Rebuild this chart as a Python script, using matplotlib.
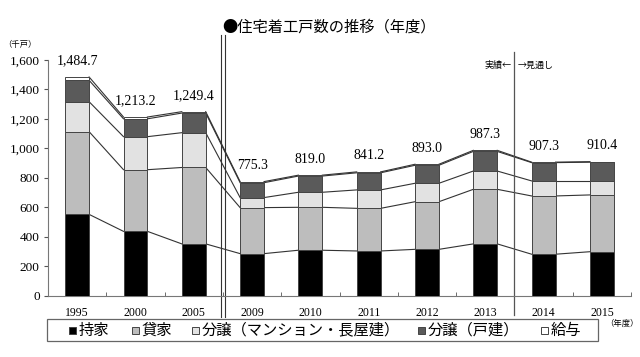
import matplotlib.pyplot as plt
import numpy as np
from matplotlib.patches import Rectangle

plt.rcParams['font.family'] = ['Noto Sans CJK JP', 'DejaVu Sans']

years = ["1995", "2000", "2005", "2009", "2010", "2011", "2012", "2013", "2014", "2015"]
totals = [1484.7, 1213.2, 1249.4, 775.3, 819.0, 841.2, 893.0, 987.3, 907.3, 910.4]

# 千戸
mochiie = [553, 438, 353, 287, 310, 305, 316, 353, 283, 300]
kashiya = [561, 418, 518, 312, 291, 289, 323, 370, 395, 385]
bunjo_m = [203, 224, 236, 68, 102, 125, 125, 124, 102, 95]
bunjo_k = [145, 121, 133, 101, 110, 116, 122, 133, 124, 127]
kyuyo = [t - a - b - c - d for t, a, b, c, d in zip(totals, mochiie, kashiya, bunjo_m, bunjo_k)]

series = [mochiie, kashiya, bunjo_m, bunjo_k, kyuyo]
names = ["持家", "貸家", "分譲（マンション・長屋建）", "分譲（戸建）", "給与"]
colors = ["#000000", "#bdbdbd", "#e2e2e2", "#5a5a5a", "#ffffff"]

W, H = 640, 357
fig = plt.figure(figsize=(6.4, 3.57), dpi=100)
ax = fig.add_axes([0.075, 0.171, 0.911, 0.661])

x = np.arange(len(years))
w = 0.41
bottom = np.zeros(len(years))
levels = []
for vals, name, c in zip(series, names, colors):
    vals = np.array(vals)
    ax.bar(x, vals, w, bottom=bottom, color=c, edgecolor="#444444", linewidth=0.7, label=name, zorder=3)
    bottom = bottom + vals
    levels.append(bottom.copy())

# 棒の間をつなぐ線
for lv in levels:
    for i in range(len(years) - 1):
        ax.plot([x[i] + w / 2, x[i + 1] - w / 2], [lv[i], lv[i + 1]], color="#333333", lw=0.8, zorder=2)

for i, t in enumerate(totals):
    ax.text(x[i], t + 65, f"{t:,.1f}", ha="center", va="bottom", fontsize=10,
            family="Liberation Serif")

ax.set_xlim(-0.5, len(years) - 0.5)
ax.set_ylim(0, 1600)
ax.set_yticks(range(0, 1601, 200))
ax.set_yticklabels([f"{v:,}" for v in range(0, 1601, 200)], family="Liberation Serif", fontsize=9.5)
ax.set_xticks(x)
ax.set_xticklabels(years, family="Liberation Serif", fontsize=8.5)
ax.set_xticks(np.arange(0.5, len(years), 1), minor=True)
ax.tick_params(axis="x", which="major", length=0, pad=8)
ax.tick_params(axis="x", which="minor", length=3, direction="in", color="#555555")
ax.tick_params(axis="y", length=3, color="#555555", pad=3)
for s in ["top", "right"]:
    ax.spines[s].set_visible(False)
for s in ["left", "bottom"]:
    ax.spines[s].set_color("#777777")

# 区切り線
ax.plot([2.47, 2.47], [-140, 1770], color="#333333", lw=0.8, clip_on=False)
ax.plot([2.53, 2.53], [-140, 1770], color="#333333", lw=0.8, clip_on=False)
ax.plot([7.5, 7.5], [-130, 1655], color="#555555", lw=0.9, clip_on=False)
ax.text(7.45, 1566, "実績←", ha="right", va="center", fontsize=6.5)
ax.text(7.55, 1566, "→見通し", ha="left", va="center", fontsize=6.5)

fig.text(0.514, 0.925, "●住宅着工戸数の推移（年度）", ha="center", va="center", fontsize=11)
fig.text(0.005, 0.874, "（千戸）", ha="left", va="center", fontsize=6)
fig.text(0.998, 0.095, "（年度）", ha="right", va="center", fontsize=6)

# 凡例（枠と項目を手で配置）
fig.patches.append(Rectangle((47 / W, 1 - 341 / H), 551 / W, 22 / H, transform=fig.transFigure,
                             facecolor="white", edgecolor="#666666", linewidth=0.9))
leg_x = [69, 132, 192, 418, 541]
cy = 1 - 330 / H
for lx, name, c in zip(leg_x, names, colors):
    fig.patches.append(Rectangle((lx / W, cy - 3.5 / H), 7 / W, 7 / H, transform=fig.transFigure,
                                 facecolor=c, edgecolor="#444444", linewidth=0.7))
    fig.text((lx + 10) / W, cy, name, ha="left", va="center", fontsize=11)

fig.savefig("out.png", dpi=100)
